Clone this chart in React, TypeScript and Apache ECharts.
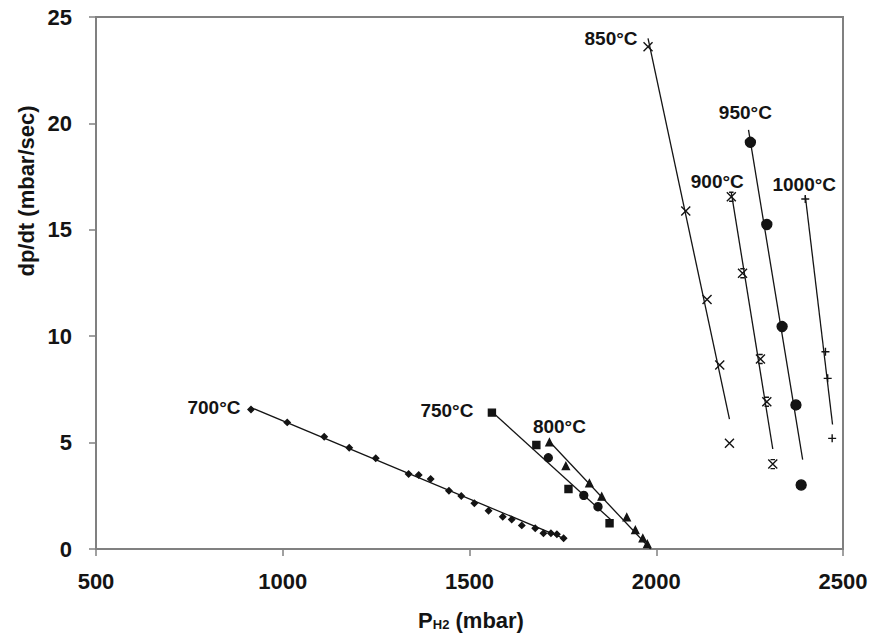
import React, { useEffect, useRef } from "react";
import * as echarts from "echarts";

// Measured points [P_H2 (mbar), dp/dt (mbar/sec)]
const pts700 = [
  [915, 6.56], [1012, 5.95], [1111, 5.28], [1178, 4.76], [1249, 4.26],
  [1337, 3.52], [1364, 3.48], [1396, 3.29], [1445, 2.74], [1478, 2.49],
  [1513, 2.15], [1551, 1.8], [1589, 1.52], [1613, 1.39], [1640, 1.11],
  [1676, 0.97], [1698, 0.74], [1718, 0.74], [1734, 0.69], [1752, 0.5],
];
const pts750sq = [[1560, 6.41], [1679, 4.89], [1765, 2.82], [1875, 1.21]];
const pts750ci = [[1711, 4.29], [1806, 2.52], [1844, 1.99]];
const pts800 = [
  [1714, 5.01], [1758, 3.9], [1821, 3.09], [1854, 2.46],
  [1921, 1.49], [1944, 0.89], [1964, 0.5], [1976, 0.23],
];
const pts850 = [[1978, 23.6], [2079, 15.88], [2136, 11.73], [2170, 8.65], [2196, 4.97]];
const pts900 = [[2201, 16.55], [2231, 12.96], [2279, 8.93], [2296, 6.92], [2312, 3.99]];
const pts950 = [[2252, 19.11], [2296, 15.25], [2337, 10.45], [2374, 6.77], [2388, 3.01]];
const pts1000 = [[2399, 16.45], [2453, 9.27], [2459, 8.02], [2471, 5.2]];

// Fitted lines (end points)
const fit700 = [[915, 6.65], [1752, 0.5]];
const fit750 = [[1560, 6.45], [1880, 1.35]];
const fit800 = [[1714, 5.05], [1985, 0.0]];
const fit850 = [[1978, 24.0], [2196, 6.1]];
const fit900 = [[2201, 16.75], [2312, 4.7]];
const fit950 = [[2247, 19.7], [2392, 4.2]];
const fit1000 = [[2399, 16.6], [2472, 5.85]];

const labels = ["700°C", "750°C", "800°C", "850°C", "900°C", "950°C", "1000°C"];
const xTicks = [500, 1000, 1500, 2000, 2500];

const INK = "#141414";
const AXIS = "#808080";
const FONT = "'Liberation Sans', Arial, sans-serif";

const CROSS = "path://M0,0L10,10M10,0L0,10";
const STAR = "path://M0,0L10,10M10,0L0,10M2.5,0L7.5,0M2.5,10L7.5,10";
const PLUS = "path://M5,0L5,10M0,5L10,5";

function withLabel(pts: number[][], text: string, offset: number[]) {
  return pts.map((p, i) =>
    i === 0
      ? {
          value: p,
          label: {
            show: true,
            formatter: text,
            position: "inside",
            offset,
            color: INK,
            opacity: 1,
            textBorderWidth: 0,
            fontFamily: FONT,
            fontWeight: "bold",
            fontSize: 19,
          },
        }
      : { value: p }
  );
}

function fitSeries(d: number[][]) {
  return {
    type: "line",
    data: d,
    showSymbol: false,
    symbol: "none",
    lineStyle: { color: INK, width: 1.3 },
    z: 2,
    silent: true,
  };
}

export default function App() {
  const ref = useRef<HTMLDivElement>(null);
  useEffect(() => {
    if (!ref.current) return;
    const chart = echarts.init(ref.current, undefined, { renderer: "svg" });
    const stroke = (size: number, symbol: string, data: any[]) => ({
      type: "scatter",
      symbol,
      symbolSize: size,
      data,
      itemStyle: { color: INK, borderColor: INK, borderWidth: 1.4, opacity: 1 },
      z: 3,
    });
    chart.setOption({
      animation: false,
      backgroundColor: "#ffffff",
      grid: {
        left: 96,
        right: 29,
        top: 17,
        bottom: 85,
        show: true,
        borderColor: AXIS,
        borderWidth: 2,
      },
      xAxis: {
        type: "value",
        min: xTicks[0],
        max: xTicks[xTicks.length - 1],
        interval: 500,
        axisLine: { show: true, onZero: false, lineStyle: { color: AXIS, width: 2 } },
        axisTick: { show: true, inside: false, length: 7, lineStyle: { color: AXIS, width: 1.5 } },
        splitLine: { show: false },
        axisLabel: {
          margin: 21,
          color: INK,
          fontFamily: FONT,
          fontWeight: "bold",
          fontSize: 22,
          formatter: (v: number) => String(v),
        },
      },
      yAxis: {
        type: "value",
        min: 0,
        max: 25,
        interval: 5,
        axisLine: { show: true, lineStyle: { color: AXIS, width: 2 } },
        axisTick: { show: true, inside: false, length: 7, lineStyle: { color: AXIS, width: 1.5 } },
        splitLine: { show: false },
        axisLabel: {
          margin: 24,
          color: INK,
          fontFamily: FONT,
          fontWeight: "bold",
          fontSize: 22,
        },
      },
      graphic: [
        {
          type: "text",
          x: 26,
          y: 191,
          rotation: Math.PI / 2,
          style: {
            text: "dp/dt (mbar/sec)",
            x: 0,
            y: 0,
            align: "center",
            verticalAlign: "middle",
            fill: INK,
            font: `bold 22px ${FONT}`,
          },
        },
        {
          type: "text",
          x: 471,
          y: 620,
          style: {
            text: "{a|P}{b|H2}{a| (mbar)}",
            align: "center",
            verticalAlign: "middle",
            rich: {
              a: { fontFamily: FONT, fontWeight: "bold", fontSize: 22, fill: INK },
              b: { fontFamily: FONT, fontWeight: "bold", fontSize: 13, fill: INK, verticalAlign: "bottom" },
            },
          },
        },
      ],
      series: [
        fitSeries(fit700),
        fitSeries(fit750),
        fitSeries(fit800),
        fitSeries(fit850),
        fitSeries(fit900),
        fitSeries(fit950),
        fitSeries(fit1000),
        stroke(6, "diamond", withLabel(pts700, labels[0], [-37, -2])),
        stroke(7, "rect", withLabel(pts750sq, labels[1], [-45, -2])),
        stroke(8, "circle", pts750ci),
        stroke(7, "triangle", withLabel(pts800, labels[2], [10, -16])),
        stroke(9, CROSS, withLabel(pts850, labels[3], [-37, -8])),
        stroke(9, STAR, withLabel(pts900, labels[4], [-14, -15])),
        stroke(10, "circle", withLabel(pts950, labels[5], [-5, -30])),
        stroke(8, PLUS, withLabel(pts1000, labels[6], [-1, -14])),
      ],
    });
    return () => chart.dispose();
  }, []);
  return (
    <div
      ref={ref}
      style={{ position: "fixed", left: 0, top: 0, width: 872, height: 634, background: "#fff" }}
    />
  );
}
